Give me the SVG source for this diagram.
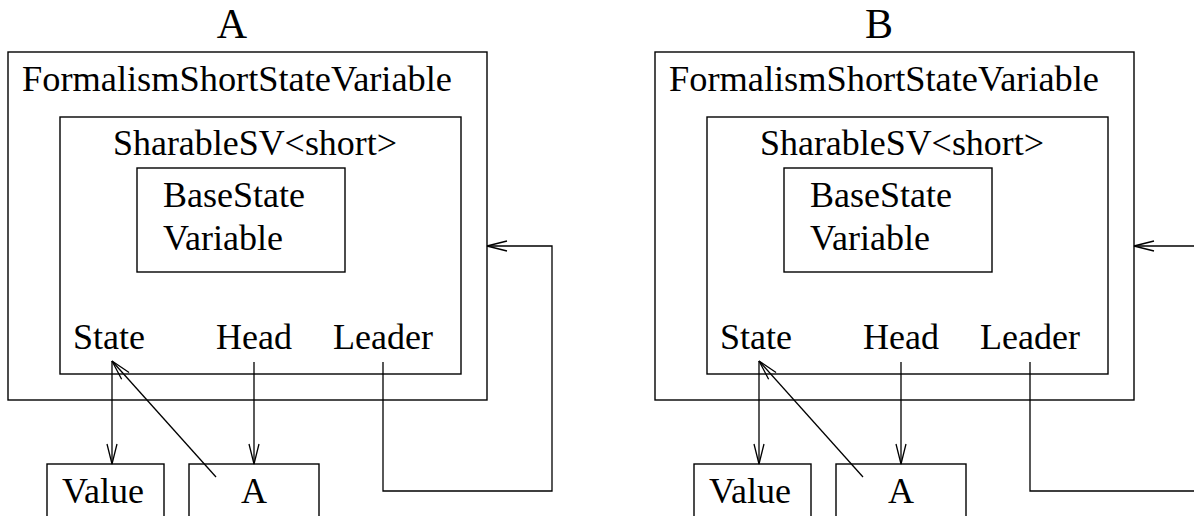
<svg xmlns="http://www.w3.org/2000/svg" width="1194" height="516" viewBox="0 0 1194 516">
  <style>
    .box { fill: none; stroke: #000; stroke-width: 1.4; }
    .wire { fill: none; stroke: #000; stroke-width: 1.3; }
    .lbl { font-family: "Liberation Serif", "Times New Roman", serif; font-size: 36px; fill: #000; }
    .title { font-family: "Liberation Serif", "Times New Roman", serif; font-size: 42px; fill: #000; text-anchor: middle; }
  </style>
  <defs>
    <marker id="open" markerUnits="userSpaceOnUse" markerWidth="24" markerHeight="14" viewBox="-22 -7 24 14" refX="0" refY="0" orient="auto">
      <path d="M-20,-5 L0,0 L-20,5" fill="none" stroke="#000" stroke-width="1.3"/>
    </marker>
  </defs>
  <rect width="1194" height="516" fill="#fff"/>

  <!-- Panel A -->
  <g id="panelA">
    <text class="title" x="232" y="38">A</text>
    <g id="a-formalism">
      <rect class="box" x="8" y="52" width="479" height="348"/>
      <text class="lbl" x="22" y="91" textLength="430" lengthAdjust="spacingAndGlyphs">FormalismShortStateVariable</text>
    </g>
    <g id="a-sharable">
      <rect class="box" x="60" y="117" width="401" height="257"/>
      <text class="lbl" x="113" y="155" textLength="284" lengthAdjust="spacingAndGlyphs">SharableSV&lt;short&gt;</text>
      <text class="lbl" x="73" y="349">State</text>
      <text class="lbl" x="216" y="349">Head</text>
      <text class="lbl" x="333" y="349">Leader</text>
    </g>
    <g id="a-base">
      <rect class="box" x="137" y="168" width="208" height="104"/>
      <text class="lbl" x="163" y="207">BaseState</text>
      <text class="lbl" x="163" y="250">Variable</text>
    </g>
    <g id="a-value">
      <rect class="box" x="47" y="464" width="117" height="70"/>
      <text class="lbl" x="62" y="503">Value</text>
    </g>
    <g id="a-ref">
      <rect class="box" x="189" y="464" width="130" height="70"/>
      <text class="lbl" x="254" y="503" text-anchor="middle">A</text>
    </g>
  </g>

  <!-- Panel B -->
  <g id="panelB" transform="translate(647,0)">
    <text class="title" x="232" y="38">B</text>
    <g id="b-formalism">
      <rect class="box" x="8" y="52" width="479" height="348"/>
      <text class="lbl" x="22" y="91" textLength="430" lengthAdjust="spacingAndGlyphs">FormalismShortStateVariable</text>
    </g>
    <g id="b-sharable">
      <rect class="box" x="60" y="117" width="401" height="257"/>
      <text class="lbl" x="113" y="155" textLength="284" lengthAdjust="spacingAndGlyphs">SharableSV&lt;short&gt;</text>
      <text class="lbl" x="73" y="349">State</text>
      <text class="lbl" x="216" y="349">Head</text>
      <text class="lbl" x="333" y="349">Leader</text>
    </g>
    <g id="b-base">
      <rect class="box" x="137" y="168" width="208" height="104"/>
      <text class="lbl" x="163" y="207">BaseState</text>
      <text class="lbl" x="163" y="250">Variable</text>
    </g>
    <g id="b-value">
      <rect class="box" x="47" y="464" width="117" height="70"/>
      <text class="lbl" x="62" y="503">Value</text>
    </g>
    <g id="b-ref">
      <rect class="box" x="189" y="464" width="130" height="70"/>
      <text class="lbl" x="254" y="503" text-anchor="middle">A</text>
    </g>
  </g>

  <!-- Connectors -->
  <g id="connectors">
    <g id="a-links">
      <line class="wire" x1="112" y1="361" x2="112" y2="464" marker-end="url(#open)"/>
      <line class="wire" x1="216" y1="477" x2="112" y2="361" marker-end="url(#open)"/>
      <line class="wire" x1="254" y1="362" x2="254" y2="464" marker-end="url(#open)"/>
      <path class="wire" d="M383,362 V491 H552 V246 H487" marker-end="url(#open)"/>
    </g>
    <g id="b-links" transform="translate(647,0)">
      <line class="wire" x1="112" y1="361" x2="112" y2="464" marker-end="url(#open)"/>
      <line class="wire" x1="216" y1="477" x2="112" y2="361" marker-end="url(#open)"/>
      <line class="wire" x1="254" y1="362" x2="254" y2="464" marker-end="url(#open)"/>
      <path class="wire" d="M383,362 V491 H560"/>
      <line class="wire" x1="560" y1="246" x2="487" y2="246" marker-end="url(#open)"/>
    </g>
  </g>
</svg>
